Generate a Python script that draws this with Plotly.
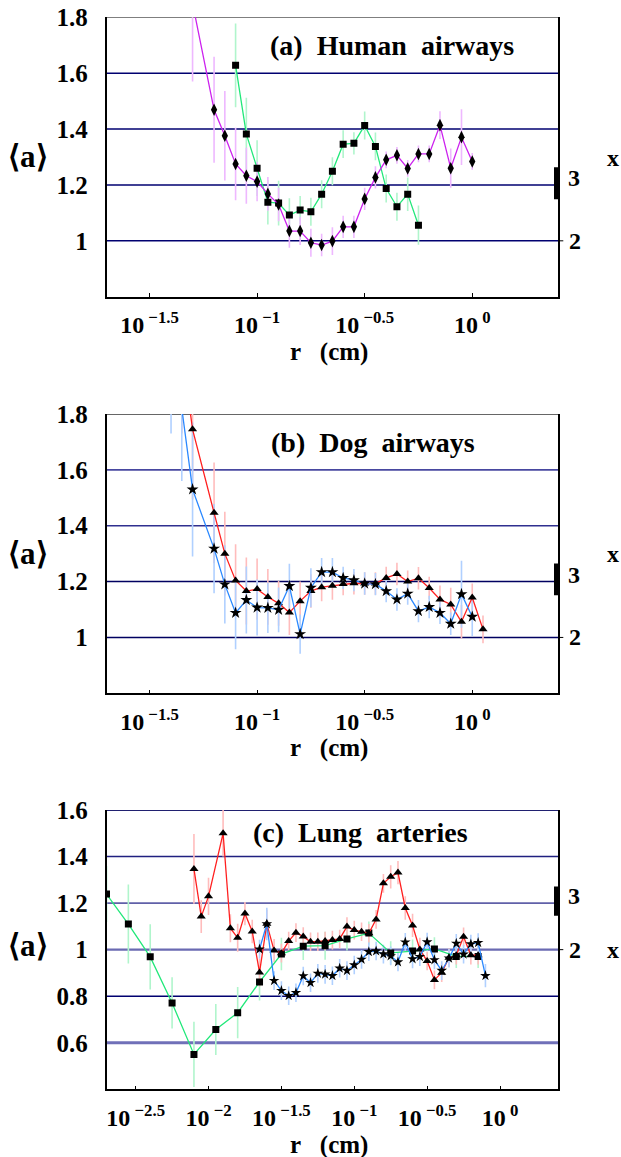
import numpy as np
import plotly.graph_objects as go

# ---------------- data ----------------
# Panel (a) Human airways
human_diamond_logr = [-1.3, -1.2, -1.15, -1.1, -1.05, -1.0, -0.95, -0.9, -0.85, -0.8, -0.75, -0.7, -0.65,
                      -0.6, -0.55, -0.5, -0.45, -0.4, -0.35, -0.3, -0.25, -0.2, -0.15, -0.1, -0.05, 0.0]
human_diamond_a = [1.85, 1.469, 1.376, 1.275, 1.233, 1.212, 1.168, 1.130, 1.035, 1.035, 0.993, 0.985, 0.999,
                   1.050, 1.050, 1.150, 1.227, 1.290, 1.306, 1.259, 1.311, 1.311, 1.414, 1.260, 1.371, 1.284]
human_diamond_err = [0.28, 0.19, 0.16, 0.13, 0.10, 0.07, 0.06, 0.06, 0.06, 0.05, 0.05, 0.04, 0.05,
                     0.04, 0.04, 0.04, 0.04, 0.03, 0.03, 0.03, 0.03, 0.03, 0.05, 0.07, 0.10, 0.03]

human_square_logr = [-1.1, -1.05, -1.0, -0.95, -0.9, -0.85, -0.8, -0.75, -0.7, -0.65, -0.6, -0.55, -0.5,
                     -0.45, -0.4, -0.35, -0.3, -0.25]
human_square_a = [1.628, 1.382, 1.260, 1.138, 1.135, 1.092, 1.110, 1.104, 1.167, 1.249, 1.346, 1.349, 1.413,
                  1.338, 1.187, 1.122, 1.167, 1.056]
human_square_err = [0.15, 0.13, 0.10, 0.08, 0.08, 0.06, 0.05, 0.05, 0.05, 0.05, 0.05, 0.04, 0.05,
                    0.05, 0.05, 0.05, 0.06, 0.07]

# Panel (b) Dog airways
dog_tri_logr = [-1.35, -1.3, -1.2, -1.15, -1.1, -1.05, -1.0, -0.95, -0.9, -0.85, -0.8, -0.75, -0.7, -0.65,
                -0.6, -0.55, -0.5, -0.45, -0.4, -0.35, -0.3, -0.25, -0.2, -0.15, -0.1, -0.05, 0.0, 0.05]
dog_tri_a = [2.03, 1.745, 1.446, 1.300, 1.204, 1.166, 1.173, 1.145, 1.122, 1.089, 1.130, 1.166, 1.180, 1.185,
             1.191, 1.194, 1.193, 1.193, 1.213, 1.227, 1.200, 1.212, 1.177, 1.136, 1.118, 1.056, 1.143, 1.029]
dog_tri_err = [0.30, 0.25, 0.18, 0.15, 0.13, 0.12, 0.11, 0.10, 0.08, 0.08, 0.07, 0.06, 0.05, 0.05,
               0.04, 0.04, 0.04, 0.04, 0.04, 0.04, 0.04, 0.04, 0.04, 0.05, 0.06, 0.06, 0.05, 0.05]

dog_star_logr = [-1.4, -1.35, -1.3, -1.2, -1.15, -1.1, -1.05, -1.0, -0.95, -0.9, -0.85, -0.8, -0.75, -0.7,
                 -0.65, -0.6, -0.55, -0.5, -0.45, -0.4, -0.35, -0.3, -0.25, -0.2, -0.15, -0.1, -0.05, 0.0]
dog_star_a = [2.05, 1.82, 1.530, 1.318, 1.190, 1.088, 1.134, 1.107, 1.106, 1.099, 1.184, 1.012, 1.178, 1.234,
              1.234, 1.213, 1.205, 1.193, 1.191, 1.166, 1.136, 1.157, 1.094, 1.109, 1.088, 1.049, 1.155, 1.074]
dog_star_err = [0.32, 0.26, 0.24, 0.16, 0.14, 0.13, 0.12, 0.10, 0.09, 0.08, 0.08, 0.07, 0.07, 0.05,
                0.05, 0.04, 0.04, 0.04, 0.04, 0.04, 0.04, 0.04, 0.04, 0.04, 0.04, 0.04, 0.12, 0.07]

# Panel (c) Lung arteries
lung_square_logr = [-2.7, -2.55, -2.4, -2.25, -2.1, -1.95, -1.8, -1.65, -1.5, -1.35, -1.2, -1.05, -0.9,
                    -0.75, -0.6, -0.45, -0.3, -0.15]
lung_square_a = [1.239, 1.110, 0.969, 0.771, 0.550, 0.657, 0.729, 0.861, 0.981, 1.015, 1.017, 1.046, 1.071,
                 0.986, 0.994, 1.003, 0.971, 0.971]
lung_square_err = [0.12, 0.17, 0.14, 0.11, 0.14, 0.11, 0.11, 0.08, 0.07, 0.06, 0.06, 0.05, 0.05,
                   0.05, 0.05, 0.05, 0.05, 0.05]

lung_tri_logr = [-2.1, -2.05, -2.0, -1.9, -1.85, -1.8, -1.75, -1.7, -1.65, -1.6, -1.55, -1.5, -1.45, -1.4,
                 -1.35, -1.3, -1.25, -1.2, -1.15, -1.1, -1.05, -1.0, -0.95, -0.9, -0.85, -0.8, -0.75, -0.7,
                 -0.65, -0.6, -0.55, -0.5, -0.45, -0.4, -0.35, -0.3, -0.25, -0.2, -0.15]
lung_tri_a = [1.347, 1.142, 1.229, 1.500, 1.092, 1.051, 1.155, 1.078, 0.902, 1.111, 0.996, 0.985, 1.037, 1.073,
              1.056, 1.034, 1.034, 1.037, 1.041, 1.046, 1.099, 1.084, 1.077, 1.070, 1.130, 1.285, 1.313, 1.331,
              1.179, 1.104, 1.001, 0.951, 0.870, 0.901, 0.965, 0.976, 1.055, 0.976, 0.976]
lung_tri_err = [0.15, 0.07, 0.08, 0.10, 0.06, 0.06, 0.05, 0.05, 0.06, 0.06, 0.05, 0.04, 0.04, 0.04,
                0.04, 0.04, 0.04, 0.04, 0.04, 0.04, 0.04, 0.04, 0.04, 0.04, 0.04, 0.04, 0.05, 0.05,
                0.05, 0.05, 0.05, 0.04, 0.04, 0.04, 0.04, 0.04, 0.04, 0.04, 0.04]

lung_star_logr = [-1.65, -1.6, -1.55, -1.5, -1.45, -1.4, -1.35, -1.3, -1.25, -1.2, -1.15, -1.1, -1.05, -1.0,
                  -0.95, -0.9, -0.85, -0.8, -0.75, -0.7, -0.65, -0.6, -0.55, -0.5, -0.45, -0.4, -0.35, -0.3,
                  -0.25, -0.2, -0.15, -0.1]
lung_star_a = [1.002, 1.110, 0.867, 0.824, 0.802, 0.815, 0.887, 0.858, 0.898, 0.894, 0.888, 0.920, 0.910, 0.934,
               0.958, 0.991, 0.994, 0.981, 0.973, 0.947, 1.032, 0.960, 0.970, 1.033, 0.956, 0.910, 0.963, 1.027,
               0.980, 1.024, 1.030, 0.888]
lung_star_err = [0.04, 0.07, 0.04, 0.04, 0.04, 0.04, 0.04, 0.04, 0.04, 0.04, 0.04, 0.04, 0.04, 0.04,
                 0.04, 0.04, 0.04, 0.04, 0.04, 0.04, 0.04, 0.04, 0.04, 0.04, 0.04, 0.04, 0.04, 0.04,
                 0.04, 0.04, 0.04, 0.05]

panel_titles = ["(a)\u00a0\u00a0Human\u00a0\u00a0airways", "(b)\u00a0\u00a0Dog\u00a0\u00a0airways",
                "(c)\u00a0\u00a0Lung\u00a0\u00a0arteries"]
xtick_exps_ab = [-1.5, -1, -0.5, 0]
xtick_exps_c = [-2.5, -2, -1.5, -1, -0.5, 0]
ytick_ab = [1.0, 1.2, 1.4, 1.6, 1.8]
ytick_c = [0.6, 0.8, 1.0, 1.2, 1.4, 1.6]

# ---------------- layout geometry ----------------
W, H = 621, 1157
FONT = "Liberation Serif, Times New Roman, serif"


def px(xw):
    return xw / W


def py(yw):
    return 1 - yw / H


px_l, px_r = 106.5, 558.3
panels_px = [(17.3, 296.7), (414.0, 693.3), (810.0, 1089.3)]
xdom = [px(px_l), px(px_r)]
ydoms = [[py(b), py(t)] for t, b in panels_px]

MAG, MAG_E = "#cc22ee", "#eeb8ff"
GRN, GRN_E = "#22e87a", "#b0f5cc"
RED, RED_E = "#ff2020", "#ffbcbc"
BLU, BLU_E = "#2a88ff", "#b0d0ff"

fig = go.Figure()


def add_series(k, logr, a, err, line_col, err_col, symbol, size):
    xa = "x" if k == 0 else f"x{k+1}"
    ya = "y" if k == 0 else f"y{k+1}"
    r = np.power(10.0, np.array(logr))
    fig.add_trace(go.Scatter(x=r, y=a, xaxis=xa, yaxis=ya, mode="markers",
                             marker=dict(size=1, opacity=0),
                             error_y=dict(type="data", array=err, color=err_col, thickness=1.6, width=0),
                             showlegend=False, hoverinfo="skip"))
    return dict(x=r, y=a, xaxis=xa, yaxis=ya, mode="lines+markers",
                line=dict(color=line_col, width=1.3),
                marker=dict(symbol=symbol, size=size, color="black", line=dict(width=0)),
                showlegend=False)


series = [
    add_series(0, human_square_logr, human_square_a, human_square_err, GRN, GRN_E, "square", 7),
    add_series(0, human_diamond_logr, human_diamond_a, human_diamond_err, MAG, MAG_E, "diamond-tall", 9),
    add_series(1, dog_tri_logr, dog_tri_a, dog_tri_err, RED, RED_E, "triangle-up", 8),
    add_series(1, dog_star_logr, dog_star_a, dog_star_err, BLU, BLU_E, "star", 9),
    add_series(2, lung_square_logr, lung_square_a, lung_square_err, GRN, GRN_E, "square", 7),
    add_series(2, lung_tri_logr, lung_tri_a, lung_tri_err, RED, RED_E, "triangle-up", 8),
    add_series(2, lung_star_logr, lung_star_a, lung_star_err, BLU, BLU_E, "star", 8),
]
for s in series:
    fig.add_trace(go.Scatter(**s))

ytick_font = dict(family=FONT, size=25, color="black", weight="bold")
xtick_font = dict(family=FONT, size=24, color="black", weight="bold")
layout = dict(template="none", width=W, height=H,
              margin=dict(l=0, r=0, t=0, b=0, autoexpand=False),
              paper_bgcolor="white", plot_bgcolor="white", showlegend=False)

xranges = [[-1.7, 0.4], [-1.7, 0.4], [-2.7, 0.4]]
yranges = [[0.8, 1.8], [0.8, 1.8], [0.4, 1.6]]
shapes = []
annotations = []
grid_specs = [
    [(1.0, "#000070", 1.5), (1.2, "#000070", 1.5), (1.4, "#000070", 1.5), (1.6, "#000070", 1.5), (1.8, "#555555", 1.6)],
    [(1.0, "#000060", 1.5), (1.2, "#000060", 1.5), (1.4, "#30308f", 1.6), (1.6, "#4848a0", 1.6), (1.8, "#666666", 2.2)],
    [(0.6, "#7070b8", 3.0), (0.8, "#000070", 1.5), (1.0, "#6a6ab2", 2.2), (1.2, "#6060a8", 1.8), (1.4, "#202080", 1.5), (1.6, "#202070", 2.0)],
]
right_labels = [(1.224, 1.0, 1.296, 1.149, 1.263), (1.223, 1.0, 1.30, 1.151, 1.265), (1.229, 1.0, 1.0, 1.146, 1.271)]
alabel_y = [1.30, 1.30, 1.02]

for k in range(3):
    sx = "" if k == 0 else str(k + 1)
    exps = xtick_exps_c if k == 2 else xtick_exps_ab
    ytv = ytick_c if k == 2 else ytick_ab
    layout[f"xaxis{sx}"] = dict(
        type="log", range=xranges[k], domain=xdom, anchor=f"y{sx}", automargin=False,
        tickvals=[10.0 ** e for e in exps],
        ticktext=[f"10<sup>\u00a0\u2212{abs(e):g}</sup>" if e != 0 else "10<sup>\u00a00</sup>" for e in exps],
        ticks="inside", ticklen=4, tickwidth=1, tickcolor="black",
        showline=True, linecolor="black", linewidth=1.5, mirror=False, ticklabeloverflow="allow",
        showgrid=False, zeroline=False, tickfont=xtick_font, ticklabelstandoff=6)
    layout[f"yaxis{sx}"] = dict(
        range=yranges[k], domain=ydoms[k], anchor=f"x{sx}", automargin=False,
        tickvals=ytv, ticktext=[f"{v:g}" for v in ytv], ticklabeloverflow="allow",
        ticks="", showline=True, linecolor="black", linewidth=1.5, mirror=True,
        showgrid=False, zeroline=False, tickfont=ytick_font, ticklabelstandoff=12)
    xref_dom = f"x{sx} domain"
    yref = f"y{sx}"
    for (yv, col, wdt) in grid_specs[k]:
        shapes.append(dict(type="line", xref=xref_dom, x0=0, x1=1, yref=yref, y0=yv, y1=yv,
                           line=dict(color=col, width=wdt), layer="below"))
    l3, l2, lx, b0, b1 = right_labels[k]
    shapes.append(dict(type="line", xref="paper", x0=px(556.0), x1=px(556.0), yref=yref, y0=b0, y1=b1,
                       line=dict(color="black", width=4)))
    shapes.append(dict(type="line", xref="paper", x0=px(px_r), x1=px(px_r + 5), yref=yref, y0=1.0, y1=1.0,
                       line=dict(color="black", width=1)))
    lab_font = dict(family=FONT, size=24, color="black", weight="bold")
    annotations.append(dict(text="3", xref="paper", x=px(574), yref=yref, y=l3, showarrow=False,
                            font=lab_font, xanchor="center", yanchor="middle"))
    annotations.append(dict(text="2", xref="paper", x=px(575), yref=yref, y=l2, showarrow=False,
                            font=lab_font, xanchor="center", yanchor="middle"))
    annotations.append(dict(text="x", xref="paper", x=px(613), yref=yref, y=lx, showarrow=False,
                            font=lab_font, xanchor="center", yanchor="middle", borderpad=0))
    annotations.append(dict(text="\u27e8a\u27e9", xref="paper", x=px(28), yref=yref, y=alabel_y[k], showarrow=False,
                            font=dict(family=FONT, size=31, color="black", weight="bold"),
                            xanchor="center", yanchor="middle"))
    # panel title
    tcx = [392, 373, 360][k]
    tcy = [45, 442, 832][k]
    annotations.append(dict(text=panel_titles[k], xref="paper", x=px(tcx), yref="paper", y=py(tcy),
                            showarrow=False, xanchor="center", yanchor="middle",
                            font=dict(family=FONT, size=28, color="black", weight="bold")))
    # x-axis title
    xty = [351.5, 748, 1145][k]
    annotations.append(dict(text="r\u00a0\u00a0\u00a0(cm)", xref="paper", x=px(329), yref="paper", y=py(xty),
                            showarrow=False, xanchor="center", yanchor="middle",
                            font=dict(family=FONT, size=25, color="black", weight="bold")))

layout["shapes"] = shapes
layout["annotations"] = annotations
fig.update_layout(**layout)
fig.write_html("out.html", config={"displayModeBar": False},
               post_script="document.body.style.margin='0px';document.body.style.overflow='hidden';")
